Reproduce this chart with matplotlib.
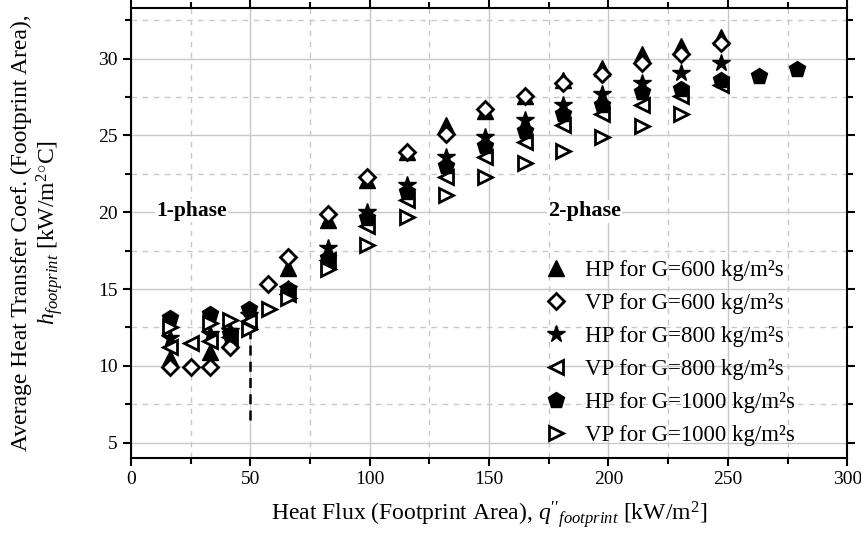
import matplotlib
matplotlib.use('agg')
import matplotlib.pyplot as plt
from matplotlib.ticker import MultipleLocator

plt.rcParams['font.family'] = ['Liberation Serif', 'DejaVu Serif']
plt.rcParams['mathtext.fontset'] = 'custom'
plt.rcParams['mathtext.rm'] = 'Liberation Serif'
plt.rcParams['mathtext.it'] = 'Liberation Serif:italic'

# heat flux [kW/m2] and h [kW/m2C] for each series
x_hp600 = [16.5, 33, 41.5, 49.5, 66, 82.5, 99, 115.5, 132, 148.5, 165, 181, 197.5, 214, 230.5, 247]
y_hp600 = [10.5, 10.9, 11.7, 13.0, 16.4, 19.5, 22.1, 23.9, 25.7, 26.6, 27.6, 28.6, 29.4, 30.3, 30.8, 31.4]

x_vp600 = [16.5, 25, 33, 41.5, 57.5, 66, 82.5, 99, 115.5, 132, 148.5, 165, 181, 197.5, 214, 230.5, 247]
y_vp600 = [9.9, 9.9, 9.9, 11.2, 15.3, 17.1, 19.9, 22.3, 23.9, 25.1, 26.7, 27.6, 28.4, 29.0, 29.7, 30.3, 31.0]

x_hp800 = [16.5, 33, 41.5, 49.5, 66, 82.5, 99, 115.5, 132, 148.5, 165, 181, 197.5, 214, 230.5, 247]
y_hp800 = [11.8, 12.1, 12.3, 13.3, 15.0, 17.7, 20.0, 21.8, 23.6, 24.9, 26.0, 27.0, 27.7, 28.4, 29.1, 29.7]

x_vp800 = [16.5, 25, 33, 41.5, 49.5, 66, 82.5, 99, 115.5, 132, 148.5, 165, 181, 197.5, 214, 230.5, 247]
y_vp800 = [11.2, 11.5, 11.6, 11.9, 12.9, 14.7, 16.9, 19.1, 20.8, 22.3, 23.6, 24.6, 25.7, 26.4, 27.0, 27.6, 28.3]

x_hp1000 = [16.5, 33, 41.5, 49.5, 66, 82.5, 99, 115.5, 132, 148.5, 165, 181, 197.5, 214, 230.5, 247, 263, 279]
y_hp1000 = [13.1, 13.4, 12.1, 13.7, 15.0, 17.0, 19.6, 21.3, 23.0, 24.3, 25.3, 26.4, 27.0, 27.8, 28.0, 28.6, 28.9, 29.3]

x_vp1000 = [16.5, 33, 41.5, 49.5, 58, 66, 82.5, 99, 115.5, 132, 148.5, 165, 181, 197.5, 214, 230.5]
y_vp1000 = [12.5, 12.8, 13.0, 12.4, 13.7, 14.4, 16.3, 17.9, 19.7, 21.1, 22.3, 23.2, 24.0, 24.9, 25.6, 26.4]

labels = ['HP for G=600 kg/m²s', 'VP for G=600 kg/m²s', 'HP for G=800 kg/m²s',
          'VP for G=800 kg/m²s', 'HP for G=1000 kg/m²s', 'VP for G=1000 kg/m²s']

fig = plt.figure(figsize=(8.61, 5.35), dpi=100)
ax = fig.add_axes([0.152, 0.144, 0.832, 0.841])

ax.plot(x_hp600, y_hp600, '^', color='k', ms=11, ls='none', label=labels[0])
ax.plot(x_vp600, y_vp600, 'D', mfc='white', mec='k', mew=2, ms=8.5, ls='none', label=labels[1])
ax.plot(x_hp800, y_hp800, '*', color='k', ms=13, ls='none', label=labels[2])
ax.plot(x_vp800, y_vp800, '<', mfc='white', mec='k', mew=2, ms=9.5, ls='none', label=labels[3])
ax.plot(x_hp1000, y_hp1000, 'p', color='k', ms=12, ls='none', label=labels[4])
ax.plot(x_vp1000, y_vp1000, '>', mfc='white', mec='k', mew=2, ms=9.5, ls='none', label=labels[5])

# phase boundary
ax.plot([50, 50], [6.5, 14], color='k', ls=(0, (4, 2.5)), lw=1.8, zorder=1)
ax.text(25.5, 20.1, '1-phase', fontsize=15.5, fontweight='bold', ha='center', va='center',
        bbox=dict(facecolor='white', edgecolor='none', pad=1))
ax.text(190, 20.05, '2-phase', fontsize=16, fontweight='bold', ha='center', va='center',
        bbox=dict(facecolor='white', edgecolor='none', pad=1))

ax.set_xlim(0, 300)
ax.set_ylim(4, 33.3)
ax.xaxis.set_major_locator(MultipleLocator(50))
ax.xaxis.set_minor_locator(MultipleLocator(25))
ax.yaxis.set_major_locator(MultipleLocator(5))
ax.yaxis.set_minor_locator(MultipleLocator(2.5))
ax.grid(which='major', color='#c8c8c8', lw=1, ls='-')
ax.grid(which='minor', color='#c8c8c8', lw=1, ls=(0, (4, 4)))
ax.set_axisbelow(True)
ax.tick_params(which='both', direction='out', top=True, right=True, width=1.5, labelsize=14)
ax.tick_params(which='major', length=6)
ax.tick_params(which='minor', length=4)
for s in ax.spines.values():
    s.set_linewidth(1.5)

ax.set_xlabel(r"Heat Flux (Footprint Area), $q''_{footprint}$ [kW/m$^2$]", fontsize=17, labelpad=8)
ax.set_ylabel('Average Heat Transfer Coef. (Footprint Area),\n'
              r'$h_{footprint}$ [kW/m$^2$$^{\circ}$C]', fontsize=17, labelpad=24,
              linespacing=1.1)

ax.legend(loc='upper left', bbox_to_anchor=(0.548, 0.46), frameon=False, fontsize=16.5,
          handletextpad=0.3, labelspacing=0.52, borderaxespad=0)

fig.savefig('out.png', dpi=100)
